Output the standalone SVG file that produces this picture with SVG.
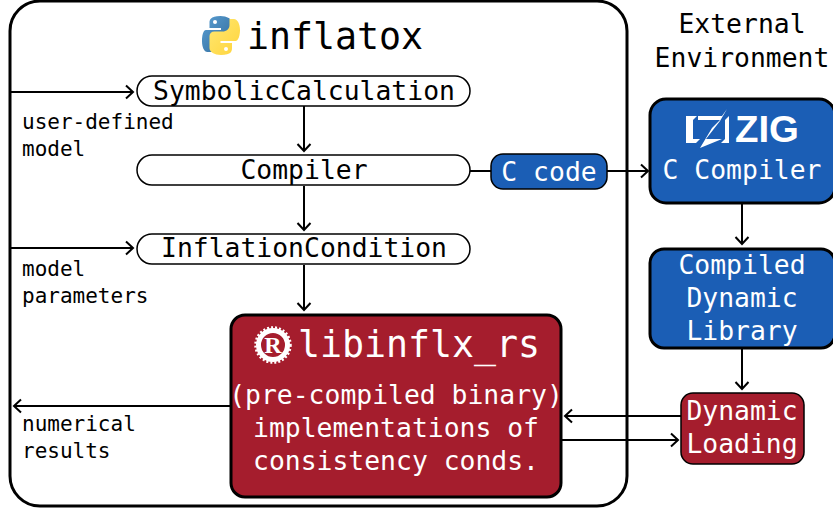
<svg xmlns="http://www.w3.org/2000/svg" width="833" height="510" viewBox="0 0 833 510">
<style>
text{font-family:"DejaVu Sans Mono","Liberation Mono",monospace;text-anchor:middle}
.t{font-size:26.4px;fill:#000}
.w{font-size:26.4px;fill:#fff}
.s{font-size:21px;fill:#000;text-anchor:start}
.p{fill:#fff;stroke:#000;stroke-width:1.5}
.blue{fill:#1b5eb5;stroke:#000;stroke-width:3}
.red{fill:#a51d2d;stroke:#000;stroke-width:3}
.c{fill:none;stroke:#000;stroke-width:2;marker-end:url(#a)}
</style>
<defs>
<marker id="a" markerUnits="userSpaceOnUse" markerWidth="14" markerHeight="16" refX="12" refY="8" orient="auto">
<path d="M5 1.5L12 8L5 14.5" fill="none" stroke="#000" stroke-width="2"/>
</marker>
<linearGradient id="py1" x1="0" y1="0" x2="1" y2="1"><stop offset="0" stop-color="#5a9fd4"/><stop offset="1" stop-color="#306998"/></linearGradient>
<linearGradient id="py2" x1="0" y1="0" x2="1" y2="1"><stop offset="0" stop-color="#ffe873"/><stop offset="1" stop-color="#ffd43b"/></linearGradient>
</defs>
<g id="inflatox"><rect x="10" y="1" width="617" height="505" rx="30" fill="#fff" stroke="#000" stroke-width="3"/>
<text x="335" y="49" style="font-size:36.6px">inflatox</text>
<g id="python-logo">
<path fill="url(#py1)" d="M220.500 16C210 16 209.500 20 209.500 23V28H221V30H206C203 30 202 36 202 41C202 47 204 52 207.500 52H212V46C212 42 215 39.500 219 39.500H227C230 39.500 232 37.500 232 35V23C232 19 227 16 220.500 16Z"/>
<path fill="url(#py2)" d="M221 55C231.500 55 232 51 232 48V43H220.500V41H235.500C238.500 41 240 35 240 30C240 24 237.500 19 234 19H229.500V25C229.500 29 226.500 31.500 222.500 31.500H214.500C211.500 31.500 209.500 33.500 209.500 36V48C209.500 52 214.500 55 221 55Z"/>
<circle cx="215" cy="22" r="2" fill="#fff"/><circle cx="226" cy="49" r="2" fill="#fff"/>
</g></g>
<g id="connectors">
<path class="c" d="M10 92H133"/>
<path class="c" d="M304 106V151"/>
<path class="c" d="M304 186V230"/>
<path class="c" d="M10 248H133"/>
<path class="c" d="M304 265V310"/>
<path class="c" d="M469 171H491" style="marker-end:none"/>
<path class="c" d="M607 171H648"/>
<path class="c" d="M742 203V244"/>
<path class="c" d="M742 349V389"/>
<path class="c" d="M681 416H565"/>
<path class="c" d="M561 440H678"/>
<path class="c" d="M231 406H14"/>
</g>
<g id="symbolic"><rect class="p" x="137" y="76" width="333" height="30" rx="15"/><text class="t" x="304" y="100">SymbolicCalculation</text></g>
<g id="compiler"><rect class="p" x="137" y="155" width="333" height="30" rx="15"/><text class="t" x="304" y="179">Compiler</text></g>
<g id="inflationcondition"><rect class="p" x="137" y="234" width="333" height="30" rx="15"/><text class="t" x="304" y="257">InflationCondition</text></g>
<g id="ccode"><rect class="blue" x="491" y="154" width="116" height="35" rx="12" style="stroke-width:1.500"/><text class="w" x="549" y="181">C code</text></g>
<g id="labels">
<text class="s" x="22" y="129">user-defined</text>
<text class="s" x="22" y="156">model</text>
<text class="s" x="22" y="276">model</text>
<text class="s" x="22" y="303">parameters</text>
<text class="s" x="22" y="431">numerical</text>
<text class="s" x="22" y="458">results</text>
<text class="t" x="742" y="33">External</text>
<text class="t" x="742" y="67">Environment</text>
</g>
<g id="zig"><rect class="blue" x="650" y="99" width="185" height="104" rx="16"/>
<g fill="#fff"><path d="M686 116H697L693 120V139H700L696 143H686Z"/><path d="M698 116H722L727 109L720 121L706 139H722L700 148L712 128L720 120H698Z"/><path d="M721 143L725 139V120L729 116V143Z"/></g>
<text x="767" y="142" style="font-family:'Liberation Sans',sans-serif;font-weight:700;font-size:37px;fill:#fff" textLength="64" lengthAdjust="spacingAndGlyphs">ZIG</text>
<text class="w" x="742" y="179">C Compiler</text></g>
<g id="library"><rect class="blue" x="650" y="249" width="185" height="99" rx="14"/>
<text class="w" x="742" y="274">Compiled</text><text class="w" x="742" y="307">Dynamic</text><text class="w" x="742" y="340">Library</text></g>
<g id="loading"><rect class="red" x="681" y="393" width="123" height="71" rx="12" style="stroke-width:1.500"/>
<text class="w" x="742" y="420">Dynamic</text><text class="w" x="742" y="453">Loading</text></g>
<g id="libinflx"><rect class="red" x="231" y="315" width="330" height="182" rx="14"/>
<g id="rust-logo"><circle cx="273" cy="345" r="14.500" fill="none" stroke="#fff" stroke-width="5"/><circle cx="273" cy="345" r="17.500" fill="none" stroke="#fff" stroke-width="2.500" stroke-dasharray="2 2"/>
<text x="273" y="353" style="font-family:'Liberation Serif',serif;font-weight:700;font-size:24px;fill:#fff">R</text></g>
<text x="419" y="357" style="font-size:36.6px;fill:#fff">libinflx_rs</text>
<text class="w" x="396" y="404">(pre-compiled binary)</text>
<text class="w" x="396" y="437">implementations of</text>
<text class="w" x="396" y="470">consistency conds.</text></g>
</svg>
